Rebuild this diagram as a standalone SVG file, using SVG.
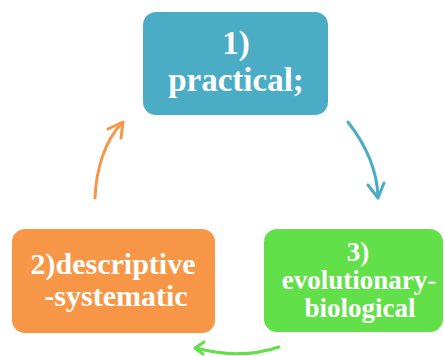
<svg xmlns="http://www.w3.org/2000/svg" width="445" height="356" viewBox="0 0 445 356">
<style>
.lbl{font-family:"Liberation Serif","Times New Roman",serif;font-weight:bold;fill:#fff;text-anchor:middle}
.arr{fill:none;stroke-width:3;stroke-linecap:round;stroke-linejoin:round}
</style>
<rect width="445" height="356" fill="#fff"/>
<g id="connectors">
<path class="arr" stroke="#4BACC6" d="M348,122 C362,140 377,165 378,197"/>
<path class="arr" stroke="#4BACC6" d="M368,185 L378,198 L384,183"/>
<path class="arr" stroke="#62E04A" d="M279,347 Q240,360 196,348"/>
<path class="arr" stroke="#62E04A" d="M204,342 L195,348 L203,354"/>
<path class="arr" stroke="#F79646" d="M95,198 C96,170 105,140 122,123"/>
<path class="arr" stroke="#F79646" d="M108,129 L123,122 L121,138"/>
</g>
<g id="node1">
<rect x="143" y="12" width="185" height="103" rx="13" fill="#4BACC6"/>
<text class="lbl" x="236" y="54" font-size="33">1)</text>
<text class="lbl" x="236" y="91" font-size="33">practical;</text>
</g>
<g id="node2">
<rect x="12" y="229" width="203" height="104" rx="13" fill="#F79646"/>
<text class="lbl" x="113" y="274" font-size="30">2)descriptive</text>
<text class="lbl" x="116" y="306" font-size="30">-systematic</text>
</g>
<g id="node3">
<rect x="264" y="229" width="179" height="103" rx="13" fill="#62E04A"/>
<text class="lbl" x="358" y="261" font-size="27">3)</text>
<text class="lbl" x="359" y="289" font-size="27">evolutionary-</text>
<text class="lbl" x="360" y="317" font-size="27">biological</text>
</g>
</svg>
